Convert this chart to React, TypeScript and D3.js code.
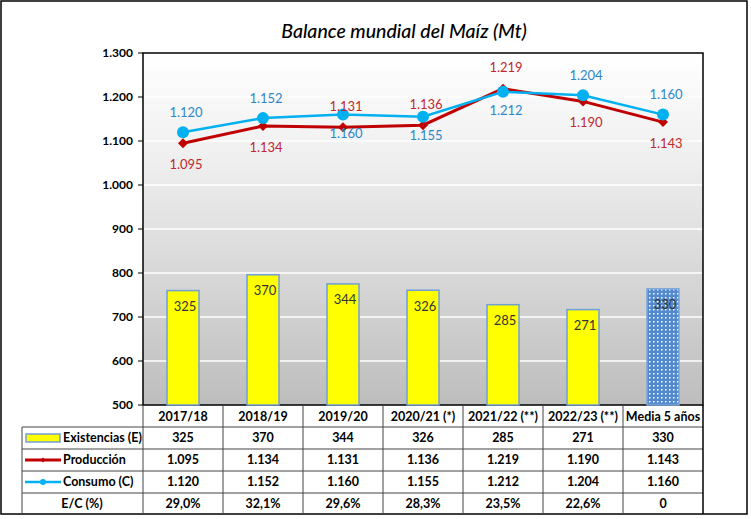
import React from "react";
import * as d3 from "d3";

const categories = ["2017/18", "2018/19", "2019/20", "2020/21 (*)", "2021/22 (**)", "2022/23 (**)", "Media 5 años"];
const existencias = [325, 370, 344, 326, 285, 271, 330];
const produccion = [1095, 1134, 1131, 1136, 1219, 1190, 1143];
const consumo = [1120, 1152, 1160, 1155, 1212, 1204, 1160];
const ecRatio = ["29,0%", "32,1%", "29,6%", "28,3%", "23,5%", "22,6%", "0"];
const yTicks = [500, 600, 700, 800, 900, 1000, 1100, 1200, 1300];
const consumoLabelPos = ["above", "above", "below", "below", "below", "above", "above"];
const produccionLabelPos = ["below", "below", "above", "above", "above", "below", "below"];

const fmt = (v: number) => {
  const s = String(Math.round(v));
  return s.length > 3 ? s.slice(0, s.length - 3) + "." + s.slice(-3) : s;
};

const W = 751;
const H = 519;
const FONT = "Lato, 'Open Sans', sans-serif";

export default function App() {
  const left = 143, right = 703, top = 53, bottom = 405;
  const x = d3.scaleBand<string>().domain(categories).range([left, right]).padding(0);
  const yL = d3.scaleLinear().domain([500, 1300]).range([bottom, top]);
  const yR = d3.scaleLinear().domain([0, 1000]).range([bottom, top]);
  const bw = x.bandwidth();
  const barW = bw * 0.4;
  const cx = (c: string) => (x(c) as number) + bw / 2;

  const lineP = d3.line<number>().x((_, i) => cx(categories[i])).y((d) => yL(d));

  const rowTops = [405, 427, 449, 471, 493];
  const rowBottom = 514;
  const tableLeft = 22;
  const rowH = 22;

  const red = "#c00000";
  const blue = "#00b0f0";
  const redTxt = "#c0282d";
  const blueTxt = "#2e86c8";

  return (
    <svg width={W} height={H} style={{ display: "block", position: "absolute", left: 0, top: 0 }} fontFamily={FONT}>
      <defs>
        <linearGradient id="bg" x1="0" y1="0" x2="0" y2="1">
          <stop offset="0" stopColor="#ffffff" />
          <stop offset="0.3" stopColor="#efefef" />
          <stop offset="1" stopColor="#bdbdbd" />
        </linearGradient>
        <pattern id="dots" width="4" height="4" patternUnits="userSpaceOnUse">
          <rect width="4" height="4" fill="#5289cf" />
          <rect x="1" y="1" width="1.5" height="1.5" fill="#ffffff" />
        </pattern>
      </defs>
      <rect x={0} y={0} width={W} height={H} fill="#ffffff" />
      <rect x={1} y={1} width={746} height={513} fill="#ffffff" stroke="#000" strokeWidth={1.5} />

      <text x={404} y={38} textAnchor="middle" fontSize={19.5} fontStyle="italic" fontWeight={500} fill="#000">
        Balance mundial del Maíz (Mt)
      </text>

      {/* plot background */}
      <rect x={left} y={top} width={right - left} height={bottom - top} fill="url(#bg)" />
      {yTicks.filter((t) => t > 500 && t < 1300).map((t) => (
        <line key={t} x1={left} x2={right} y1={yL(t)} y2={yL(t)} stroke="#ffffff" strokeWidth={1.5} />
      ))}
      <rect x={left} y={top} width={right - left} height={bottom - top} fill="none" stroke="#000" strokeWidth={1.5} />

      {/* y axis */}
      {yTicks.map((t) => (
        <g key={t}>
          <line x1={left - 5} x2={left} y1={yL(t)} y2={yL(t)} stroke="#000" />
          <text x={left - 10} y={yL(t)} dy="0.35em" textAnchor="end" fontSize={12} fontWeight="bold">
            {fmt(t)}
          </text>
        </g>
      ))}

      {/* bars */}
      {existencias.map((v, i) => {
        const c = categories[i];
        const isMean = i === categories.length - 1;
        return (
          <g key={c}>
            <rect
              x={cx(c) - barW / 2}
              y={yR(v)}
              width={barW}
              height={bottom - yR(v)}
              fill={isMean ? "url(#dots)" : "#ffff00"}
              stroke={isMean ? "#7aa6dc" : "#6f9fd8"}
              strokeWidth={1.5}
            />
            <text x={cx(c) + 2} y={yR(v) + 16} dy="0.35em" textAnchor="middle" fontSize={13} fill="#333">
              {v}
            </text>
          </g>
        );
      })}

      {/* lines */}
      <path d={lineP(produccion) || ""} fill="none" stroke={red} strokeWidth={3} />
      {produccion.map((v, i) => {
        const px = cx(categories[i]);
        const py = yL(v);
        return <path key={i} d={`M${px},${py - 5}L${px + 5},${py}L${px},${py + 5}L${px - 5},${py}Z`} fill={red} />;
      })}
      <path d={lineP(consumo) || ""} fill="none" stroke={blue} strokeWidth={2.5} />
      {consumo.map((v, i) => (
        <circle key={i} cx={cx(categories[i])} cy={yL(v)} r={6} fill={blue} />
      ))}

      {/* line labels */}
      {consumo.map((v, i) => (
        <text
          key={"cl" + i}
          x={cx(categories[i]) + 3}
          y={yL(v) + (consumoLabelPos[i] === "above" ? -20 : 19)}
          dy="0.35em"
          textAnchor="middle"
          fontSize={13}
          fill={blueTxt}
        >
          {fmt(v)}
        </text>
      ))}
      {produccion.map((v, i) => (
        <text
          key={"pl" + i}
          x={cx(categories[i]) + 3}
          y={yL(v) + (produccionLabelPos[i] === "above" ? -21 : 21)}
          dy="0.35em"
          textAnchor="middle"
          fontSize={13}
          fill={redTxt}
        >
          {fmt(v)}
        </text>
      ))}

      {/* data table */}
      <g fontSize={12.5} fontWeight="bold">
        {rowTops.slice(1).map((yy, i) => (
          <line key={"h" + i} x1={tableLeft} x2={right} y1={yy} y2={yy} stroke="#444" strokeWidth={1} />
        ))}
        <line x1={tableLeft} x2={tableLeft} y1={rowTops[1]} y2={rowBottom} stroke="#444" />
        {categories.map((c, i) => (
          <line key={"v" + i} x1={x(c) as number} x2={x(c) as number} y1={bottom} y2={rowBottom} stroke="#444" />
        ))}
        <line x1={right} x2={right} y1={bottom} y2={rowBottom} stroke="#000" strokeWidth={1.5} />
        {categories.map((c, i) => (
          <g key={"t" + i}>
            <text x={cx(c)} y={rowTops[0] + rowH / 2 + 1} dy="0.35em" textAnchor="middle">{c}</text>
            <text x={cx(c)} y={rowTops[1] + rowH / 2} dy="0.35em" textAnchor="middle">{existencias[i]}</text>
            <text x={cx(c)} y={rowTops[2] + rowH / 2} dy="0.35em" textAnchor="middle">{fmt(produccion[i])}</text>
            <text x={cx(c)} y={rowTops[3] + rowH / 2} dy="0.35em" textAnchor="middle">{fmt(consumo[i])}</text>
            <text x={cx(c)} y={rowTops[4] + rowH / 2} dy="0.35em" textAnchor="middle">{ecRatio[i]}</text>
          </g>
        ))}
        {/* legend keys */}
        <rect x={26} y={rowTops[1] + 7} width={34} height={8} fill="#ffff00" stroke="#6f9fd8" strokeWidth={1.5} />
        <text x={63} y={rowTops[1] + rowH / 2} dy="0.35em">Existencias (E)</text>
        <line x1={25} x2={61} y1={rowTops[2] + 11} y2={rowTops[2] + 11} stroke={red} strokeWidth={3} />
        <path d={`M43,${rowTops[2] + 8.5}L45.5,${rowTops[2] + 11}L43,${rowTops[2] + 13.5}L40.5,${rowTops[2] + 11}Z`} fill={red} />
        <text x={63} y={rowTops[2] + rowH / 2} dy="0.35em">Producción</text>
        <line x1={25} x2={61} y1={rowTops[3] + 11} y2={rowTops[3] + 11} stroke={blue} strokeWidth={2.5} />
        <circle cx={43} cy={rowTops[3] + 11} r={3} fill={blue} />
        <text x={63} y={rowTops[3] + rowH / 2} dy="0.35em">Consumo (C)</text>
        <text x={82} y={rowTops[4] + rowH / 2} dy="0.35em" textAnchor="middle">E/C (%)</text>
      </g>
    </svg>
  );
}
